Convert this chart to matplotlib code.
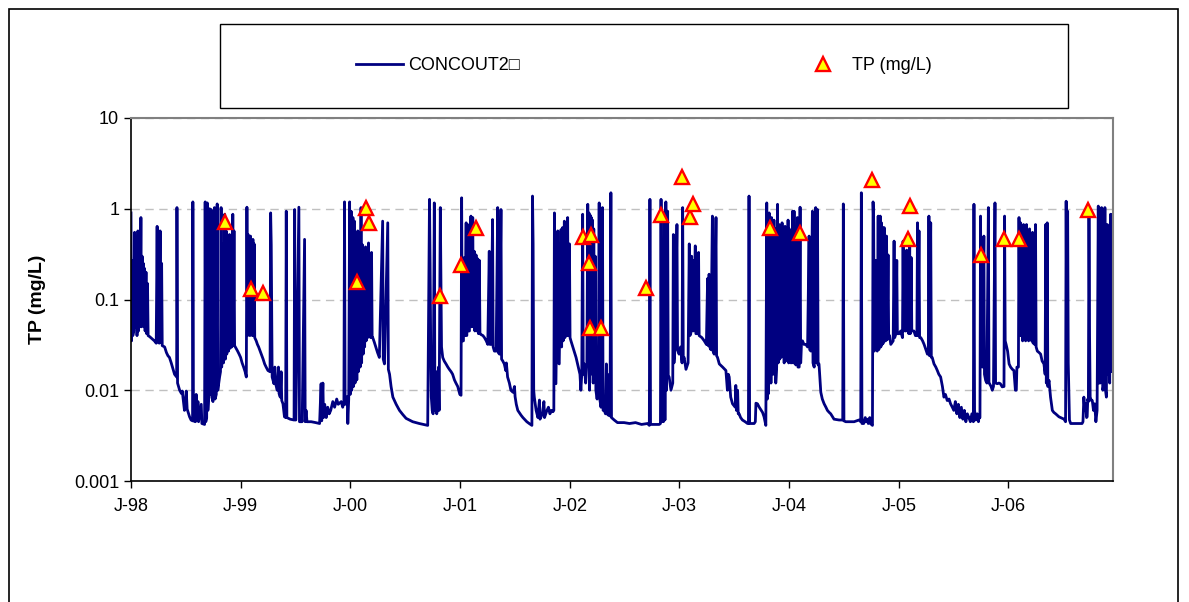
import matplotlib
matplotlib.use("Agg")
import matplotlib.pyplot as plt
from matplotlib.patches import Rectangle
import numpy as np

plt.rcParams["font.family"] = ["Liberation Sans", "DejaVu Sans"]

# Data: days since 1998-01-01 and TP (mg/L)
start = np.datetime64("1998-01-01")

concout2 = [
    # 1998
    (0, 0.90), (2, 0.035), (4, 0.27), (6, 0.04), (9, 0.045), (12, 0.55), (14, 0.05),
    (17, 0.25), (20, 0.04), (23, 0.57), (25, 0.045), (28, 0.44), (30, 0.05), (33, 0.80),
    (35, 0.05), (37, 0.30), (39, 0.055), (41, 0.25), (43, 0.05), (45, 0.22), (47, 0.045),
    (50, 0.20), (52, 0.042), (55, 0.15), (57, 0.040), (62, 0.039), (70, 0.037), (78, 0.035),
    (84, 0.033), (87, 0.64), (89, 0.034), (92, 0.29), (94, 0.033), (97, 0.57), (99, 0.034),
    (102, 0.25), (104, 0.031), (112, 0.030), (118, 0.026), (123, 0.024), (128, 0.023),
    (134, 0.020), (140, 0.017), (145, 0.015), (152, 0.014), (153, 1.03), (155, 0.012),
    (162, 0.010), (168, 0.0092), (171, 0.0098), (173, 0.0084), (178, 0.0060), (181, 0.0075),
    (184, 0.0098), (187, 0.0062), (195, 0.0051), (200, 0.0047), (205, 0.0046), (206, 1.19),
    (208, 0.0046), (214, 0.0045), (217, 0.0090), (219, 0.0046), (223, 0.0075), (225, 0.0045),
    (234, 0.0070), (236, 0.0043), (245, 0.0042), (247, 1.19), (249, 0.0045), (252, 0.0050),
    (254, 1.16), (256, 0.006), (259, 0.0092), (262, 1.0), (264, 0.009), (267, 0.98),
    (269, 0.0084), (273, 0.0075), (278, 1.03), (280, 0.0080), (284, 0.009), (287, 1.13),
    (289, 0.010), (295, 0.014), (298, 0.016), (300, 1.03), (302, 0.018), (306, 0.41),
    (308, 0.02), (312, 0.87), (314, 0.022), (317, 0.57), (319, 0.025), (323, 0.34),
    (325, 0.027), (328, 0.52), (330, 0.029), (334, 0.30), (336, 0.03), (339, 0.87),
    (341, 0.031), (343, 0.57), (345, 0.031), (350, 0.029), (355, 0.027), (360, 0.025),
    (365, 0.023),
    # 1999
    (370, 0.020), (375, 0.018), (380, 0.016), (384, 0.014), (386, 1.04), (388, 0.04),
    (390, 0.52), (392, 0.045), (394, 0.41), (396, 0.04), (398, 0.50), (400, 0.042),
    (402, 0.44), (404, 0.04), (406, 0.46), (408, 0.04), (410, 0.41), (412, 0.038),
    (417, 0.035), (421, 0.032), (425, 0.030), (430, 0.027), (434, 0.025), (440, 0.022),
    (445, 0.0195), (450, 0.018), (456, 0.0165), (463, 0.016), (465, 0.90), (467, 0.40),
    (470, 0.014), (476, 0.0118), (479, 0.018), (481, 0.012), (487, 0.010), (491, 0.018),
    (493, 0.0092), (497, 0.0084), (500, 0.016), (502, 0.0077), (506, 0.0071), (511, 0.0051),
    (515, 0.0050), (517, 0.94), (519, 0.0050), (530, 0.0048), (543, 0.0047), (545, 0.98),
    (547, 0.0047), (549, 0.0047), (559, 1.04), (561, 0.0045), (570, 0.0045), (578, 0.46),
    (580, 0.0045), (583, 0.0060), (586, 0.0045), (600, 0.0045), (615, 0.0044), (628, 0.0043),
    (633, 0.0118), (635, 0.0046), (639, 0.012), (641, 0.0050), (645, 0.0070), (650, 0.0050),
    (655, 0.0065), (660, 0.0055), (665, 0.0060), (672, 0.0075), (678, 0.0065), (685, 0.0080),
    (690, 0.0070), (700, 0.0075), (705, 0.0065), (709, 0.0075), (711, 1.19), (713, 0.0070),
    (718, 0.0075), (720, 0.0085), (722, 0.0043), (725, 0.008),
    # 2000
    (728, 1.19), (730, 0.009), (733, 0.94), (735, 0.010), (739, 0.80), (741, 0.011),
    (744, 0.73), (746, 0.012), (750, 0.16), (752, 0.013), (755, 0.57), (757, 0.016),
    (761, 0.44), (763, 0.018), (766, 1.03), (768, 0.02), (771, 0.40), (773, 0.025),
    (776, 0.35), (778, 0.03), (781, 0.38), (783, 0.035), (786, 0.33), (788, 0.038),
    (791, 0.42), (793, 0.04), (796, 0.30), (798, 0.038), (801, 0.33), (803, 0.038),
    (805, 0.038), (810, 0.034), (815, 0.03), (821, 0.026), (827, 0.023), (838, 0.73),
    (840, 0.022), (844, 0.0195), (855, 0.70), (857, 0.017), (861, 0.015), (866, 0.011),
    (872, 0.0084), (883, 0.007), (894, 0.006), (905, 0.0054), (916, 0.0049), (927, 0.0047),
    (938, 0.0045), (960, 0.0043), (988, 0.0041), (994, 1.27), (996, 0.25), (998, 0.031),
    (1000, 0.0084), (1003, 0.006), (1006, 0.0055), (1010, 1.16), (1012, 0.006), (1016, 0.016),
    (1018, 0.0055), (1021, 0.0065), (1024, 0.018), (1026, 0.006), (1030, 1.03), (1032, 0.19),
    (1034, 0.03), (1038, 0.023), (1043, 0.021), (1049, 0.0195), (1055, 0.018), (1060, 0.017),
    (1066, 0.016), (1071, 0.015), (1077, 0.013), (1082, 0.012), (1088, 0.011), (1095, 0.009),
    # 2001
    (1099, 0.0088), (1101, 1.32), (1103, 0.035), (1107, 0.035), (1110, 0.29), (1112, 0.04),
    (1116, 0.70), (1118, 0.04), (1121, 0.67), (1123, 0.045), (1127, 0.045), (1130, 0.60),
    (1132, 0.83), (1134, 0.05), (1138, 0.80), (1140, 0.05), (1143, 0.34), (1145, 0.045),
    (1149, 0.31), (1151, 0.045), (1155, 0.28), (1157, 0.042), (1160, 0.27), (1162, 0.042),
    (1166, 0.041), (1172, 0.040), (1177, 0.038), (1183, 0.035), (1188, 0.032), (1193, 0.34),
    (1195, 0.032), (1199, 0.032), (1204, 0.76), (1206, 0.030), (1210, 0.027), (1216, 0.027),
    (1221, 1.03), (1223, 0.026), (1227, 0.025), (1232, 0.98), (1234, 0.022), (1238, 0.021),
    (1243, 0.0195), (1248, 0.0165), (1250, 0.020), (1254, 0.014), (1260, 0.012), (1265, 0.010),
    (1272, 0.0095), (1277, 0.011), (1279, 0.0085), (1283, 0.007), (1288, 0.0060), (1294, 0.0056),
    (1299, 0.0053), (1305, 0.005), (1310, 0.0048), (1318, 0.0045), (1326, 0.0043), (1335, 0.0041),
    (1337, 1.38), (1339, 0.41), (1341, 0.01), (1343, 0.0084), (1349, 0.0060), (1355, 0.0050),
    (1360, 0.0078), (1362, 0.0048), (1370, 0.0055), (1375, 0.0075), (1377, 0.0050),
    (1385, 0.0060), (1390, 0.0065), (1395, 0.0055), (1400, 0.0060), (1405, 0.0058),
    (1408, 0.0060), (1410, 0.90), (1412, 0.012), (1415, 0.0118), (1421, 0.57), (1423, 0.02),
    (1426, 0.0195), (1432, 0.59), (1434, 0.03), (1437, 0.62), (1439, 0.035), (1443, 0.73),
    (1445, 0.038), (1448, 0.64), (1450, 0.04), (1454, 0.80), (1456, 0.04), (1460, 0.41),
    (1462, 0.038),
    # 2002
    (1465, 0.035), (1470, 0.031), (1476, 0.027), (1482, 0.023), (1487, 0.0195), (1495, 0.015),
    (1498, 0.010), (1501, 0.015), (1504, 0.87), (1506, 0.015), (1509, 0.0195), (1514, 0.012),
    (1518, 0.020), (1521, 1.12), (1523, 0.02), (1525, 0.90), (1527, 0.01), (1529, 0.85),
    (1531, 0.015), (1533, 0.80), (1535, 0.02), (1537, 0.75), (1539, 0.012), (1541, 0.60),
    (1543, 0.015), (1546, 0.30), (1548, 0.010), (1552, 0.008), (1556, 0.012), (1559, 1.16),
    (1561, 0.008), (1565, 0.0065), (1568, 0.010), (1570, 1.03), (1572, 0.006), (1576, 0.0060),
    (1580, 0.0055), (1583, 0.0195), (1585, 0.0055), (1590, 0.0053), (1593, 0.015),
    (1595, 0.0052), (1598, 1.50), (1600, 0.0050), (1609, 0.0047), (1620, 0.0044),
    (1642, 0.0044), (1660, 0.0043), (1680, 0.0044), (1700, 0.0042), (1720, 0.0043),
    (1726, 0.0041), (1728, 1.27), (1730, 0.0042), (1745, 0.0042), (1759, 0.0042),
    (1763, 0.0043), (1765, 1.27), (1767, 0.0045), (1770, 0.0070), (1773, 0.0045), (1776, 0.80),
    (1778, 0.0047), (1781, 1.19), (1783, 0.010), (1787, 0.94), (1789, 0.014), (1792, 0.014),
    (1798, 0.010), (1804, 0.012), (1806, 0.52), (1808, 0.02), (1812, 0.030), (1818, 0.67),
    (1820, 0.028), (1825, 0.025), (1830, 0.030),
    # 2003
    (1835, 0.020), (1837, 1.03), (1839, 0.022), (1842, 0.023), (1848, 0.017), (1855, 0.020),
    (1859, 0.41), (1861, 0.04), (1864, 0.042), (1867, 0.30), (1869, 0.045), (1872, 0.27),
    (1874, 0.045), (1879, 0.39), (1881, 0.042), (1883, 0.042), (1886, 0.27), (1888, 0.042),
    (1890, 0.33), (1892, 0.040), (1901, 0.038), (1909, 0.035), (1916, 0.032), (1920, 0.17),
    (1922, 0.031), (1925, 0.19), (1927, 0.030), (1931, 0.028), (1936, 0.83), (1938, 0.027),
    (1942, 0.025), (1948, 0.80), (1950, 0.024), (1953, 0.023), (1959, 0.0195), (1970, 0.018),
    (1981, 0.0165), (1986, 0.010), (1989, 0.015), (1992, 0.014), (1997, 0.0084), (2003, 0.0071),
    (2012, 0.0065), (2014, 0.0113), (2016, 0.006), (2020, 0.010), (2022, 0.0055), (2025, 0.0055),
    (2030, 0.005), (2036, 0.0047), (2045, 0.0045), (2053, 0.0043), (2056, 0.0043), (2058, 1.38),
    (2060, 0.0043), (2075, 0.0043), (2079, 0.0045), (2081, 0.0072), (2086, 0.0071),
    (2092, 0.0065), (2103, 0.0057), (2108, 0.0051), (2114, 0.0041), (2117, 1.16), (2119, 0.008),
    (2121, 0.67), (2123, 0.0092), (2125, 0.90), (2127, 0.015), (2129, 0.62), (2131, 0.012),
    (2133, 0.80), (2135, 0.018), (2137, 0.57), (2139, 0.015), (2141, 0.75), (2143, 0.02),
    (2145, 0.60), (2147, 0.012), (2150, 0.018), (2153, 1.12), (2155, 0.02), (2158, 0.67),
    (2160, 0.022), (2163, 0.57), (2165, 0.023), (2168, 0.70), (2170, 0.025), (2173, 0.57),
    (2175, 0.02), (2178, 0.64), (2180, 0.023), (2183, 0.52), (2185, 0.021), (2188, 0.75),
    (2190, 0.02), (2192, 0.60), (2194, 0.022),
    # 2004
    (2198, 0.020), (2203, 0.94), (2205, 0.02), (2208, 0.94), (2210, 0.02), (2214, 0.019),
    (2219, 0.80), (2221, 0.018), (2225, 0.018), (2228, 1.04), (2230, 0.02), (2233, 0.035),
    (2236, 0.035), (2241, 0.032), (2247, 0.032), (2253, 0.030), (2258, 0.50), (2260, 0.028),
    (2264, 0.027), (2269, 0.94), (2271, 0.02), (2275, 0.018), (2280, 1.03), (2282, 0.02),
    (2286, 0.98), (2288, 0.019), (2291, 0.0195), (2297, 0.0095), (2302, 0.008), (2308, 0.0071),
    (2314, 0.0065), (2319, 0.0060), (2325, 0.0057), (2330, 0.0055), (2341, 0.0048),
    (2358, 0.0047), (2370, 0.0047), (2372, 1.13), (2374, 0.0046), (2380, 0.0045),
    (2408, 0.0045), (2424, 0.0047), (2430, 0.0045), (2432, 1.50), (2434, 0.0043),
    (2440, 0.0043), (2445, 0.0050), (2447, 0.0045), (2452, 0.0048), (2455, 0.0043),
    (2460, 0.0050), (2462, 0.0043), (2469, 0.0041), (2471, 1.19), (2473, 0.70), (2475, 0.027),
    (2477, 0.03), (2480, 0.27), (2482, 0.03), (2485, 0.027), (2488, 0.83), (2490, 0.028),
    (2492, 0.030), (2495, 0.83), (2497, 0.03), (2499, 0.70), (2501, 0.032), (2503, 0.62),
    (2505, 0.033), (2508, 0.62), (2510, 0.035), (2513, 0.035), (2516, 0.50), (2518, 0.036),
    (2521, 0.31), (2523, 0.04), (2526, 0.04), (2530, 0.032), (2538, 0.035), (2541, 0.44),
    (2543, 0.038), (2547, 0.042), (2550, 0.27), (2552, 0.042), (2558, 0.042),
    # 2005
    (2563, 0.045), (2569, 0.038), (2571, 0.44), (2573, 0.045), (2576, 0.34), (2578, 0.045),
    (2580, 0.045), (2583, 0.35), (2585, 0.045), (2588, 0.33), (2590, 0.042), (2593, 0.38),
    (2595, 0.042), (2598, 0.29), (2600, 0.045), (2604, 0.045), (2607, 0.045), (2612, 0.04),
    (2617, 0.04), (2619, 0.70), (2621, 0.04), (2624, 0.57), (2626, 0.038), (2630, 0.038),
    (2636, 0.035), (2641, 0.032), (2647, 0.028), (2652, 0.025), (2655, 0.025), (2657, 0.83),
    (2659, 0.024), (2663, 0.70), (2665, 0.023), (2668, 0.023), (2674, 0.0195), (2680, 0.018),
    (2685, 0.0165), (2690, 0.015), (2696, 0.014), (2702, 0.011), (2707, 0.0084), (2712, 0.009),
    (2718, 0.0077), (2724, 0.008), (2729, 0.0071), (2735, 0.0065), (2740, 0.0060),
    (2745, 0.0075), (2750, 0.0055), (2755, 0.0070), (2760, 0.0050), (2765, 0.0065),
    (2770, 0.0048), (2775, 0.0060), (2780, 0.0045), (2785, 0.0055), (2790, 0.0050),
    (2795, 0.0045), (2800, 0.0055), (2805, 0.0045), (2807, 1.12), (2809, 0.006), (2813, 0.0047),
    (2818, 0.0055), (2822, 0.0045), (2824, 0.0051), (2827, 0.0050), (2829, 0.83), (2831, 0.02),
    (2835, 0.018), (2840, 0.50), (2842, 0.015), (2846, 0.0128), (2850, 0.012), (2855, 1.03),
    (2857, 0.012), (2859, 0.0118), (2864, 0.0110), (2868, 0.010), (2872, 0.011), (2877, 1.16),
    (2879, 0.012), (2885, 0.0118), (2890, 0.012), (2895, 0.0118), (2901, 0.0109),
    (2907, 0.0110), (2909, 0.83), (2911, 0.035), (2914, 0.032), (2919, 0.027),
    # 2006
    (2924, 0.0195), (2929, 0.018), (2935, 0.017), (2940, 0.0165), (2945, 0.010), (2948, 0.010),
    (2950, 0.018), (2955, 0.018), (2957, 0.80), (2959, 0.04), (2962, 0.70), (2964, 0.04),
    (2967, 0.64), (2969, 0.035), (2972, 0.67), (2974, 0.04), (2977, 0.57), (2979, 0.035),
    (2982, 0.67), (2984, 0.04), (2987, 0.52), (2989, 0.035), (2992, 0.60), (2994, 0.038),
    (2997, 0.50), (2999, 0.035), (3002, 0.55), (3004, 0.033), (3007, 0.45), (3009, 0.032),
    (3012, 0.67), (3014, 0.03), (3018, 0.027), (3024, 0.026), (3029, 0.025), (3034, 0.021),
    (3040, 0.0195), (3044, 0.015), (3046, 0.67), (3048, 0.012), (3051, 0.70), (3053, 0.011),
    (3057, 0.0128), (3062, 0.0084), (3068, 0.0060), (3073, 0.0057), (3079, 0.0055),
    (3090, 0.0051), (3107, 0.0048), (3112, 0.0045), (3114, 1.21), (3116, 0.03), (3119, 0.94),
    (3121, 0.02), (3125, 0.0047), (3129, 0.0043), (3145, 0.0043), (3167, 0.0043),
    (3170, 0.0045), (3173, 0.0084), (3176, 0.0060), (3179, 0.0071), (3182, 0.0050),
    (3184, 0.0051), (3186, 0.0080), (3188, 0.0075), (3190, 1.03), (3192, 0.04), (3194, 0.0084),
    (3198, 0.0077), (3201, 0.0077), (3205, 0.0060), (3209, 0.0071), (3213, 0.0045),
    (3217, 0.0060), (3221, 1.07), (3223, 0.012), (3225, 0.0195), (3227, 0.012), (3230, 0.015),
    (3232, 1.03), (3234, 0.02), (3236, 0.01), (3240, 0.012), (3243, 1.03), (3245, 0.01),
    (3248, 0.0084), (3251, 0.67), (3253, 0.015), (3256, 0.0195), (3259, 0.012), (3262, 0.87),
    (3264, 0.02), (3267, 0.016), (3269, 0.87), (3270, 0.02),
]

# measured TP samples
tp_days = [313, 398, 439, 752, 783, 794, 1030, 1099, 1150, 1504, 1524, 1530, 1532,
           1564, 1716, 1764, 1836, 1860, 1872, 2129, 2227, 2469, 2588, 2595, 2831,
           2908, 2958, 3188]
tp_obs = [0.71, 0.13, 0.117, 0.156, 1.02, 0.70, 0.108, 0.24, 0.62, 0.49, 0.25, 0.049,
          0.52, 0.049, 0.135, 0.85, 2.23, 0.81, 1.12, 0.62, 0.54, 2.1, 0.47, 1.07,
          0.31, 0.47, 0.47, 0.98]

year_ticks = ["1998", "1999", "2000", "2001", "2002", "2003", "2004", "2005", "2006"]
year_labels = ["J-98", "J-99", "J-00", "J-01", "J-02", "J-03", "J-04", "J-05", "J-06"]
y_ticks = [0.001, 0.01, 0.1, 1, 10]
y_labels = ["0.001", "0.01", "0.1", "1", "10"]

line_days = np.array([d for d, v in concout2])
line_tp = np.array([v for d, v in concout2])
line_dates = start + line_days.astype("timedelta64[D]")
tp_dates = start + np.array(tp_days).astype("timedelta64[D]")

W, H = 1189, 602
fig = plt.figure(figsize=(W / 100, H / 100), dpi=100)
ax = fig.add_axes([131 / W, 1 - 481 / H, (1113 - 131) / W, (481 - 118) / H])

line, = ax.plot(line_dates, line_tp, color="#000080", lw=2.0, label="CONCOUT2\u25a1")
pts, = ax.plot(tp_dates, tp_obs, linestyle="none", marker="^", markersize=10,
               markerfacecolor="#ffff00", markeredgecolor="#ff0000", markeredgewidth=1.7,
               label="TP (mg/L)")

ax.set_yscale("log")
ax.set_ylim(0.001, 10)
ax.set_yticks(y_ticks)
ax.set_yticklabels(y_labels)
ax.yaxis.set_minor_locator(matplotlib.ticker.NullLocator())
ax.set_xlim(start, start + np.timedelta64(3270, "D"))
ax.set_xticks([np.datetime64(y + "-01-01") for y in year_ticks])
ax.set_xticklabels(year_labels)

ax.tick_params(axis="both", direction="out", length=5, width=1, labelsize=13, colors="black")
ax.tick_params(axis="x", pad=7)
ax.yaxis.grid(True, linestyle=(0, (6, 4)), color="#c0c0c0", lw=1)
ax.set_axisbelow(True)
for side in ["top", "right"]:
    ax.spines[side].set_color("#808080")
    ax.spines[side].set_linewidth(1.5)
for side in ["left", "bottom"]:
    ax.spines[side].set_color("black")
    ax.spines[side].set_linewidth(1.2)

ax.set_ylabel("TP (mg/L)", fontsize=14, fontweight="bold")
ax.yaxis.set_label_coords(-0.087, 0.5)

# legend box and entries
fig.patches.append(Rectangle((220 / W, 1 - 108 / H), 848 / W, 84 / H, transform=fig.transFigure,
                             fill=False, edgecolor="black", lw=1))
fig.legend([line, pts], ["CONCOUT2\u25a1", "TP (mg/L)"], loc="center",
           bbox_to_anchor=(644 / W, 1 - 66 / H), ncol=2, frameon=False, fontsize=13,
           handlelength=2.6, handletextpad=0.3, columnspacing=15.5, numpoints=1)

# outer chart frame
fig.patches.append(Rectangle((9 / W, -0.05), (1178 - 9) / W, 1.05 - 9 / H,
                             transform=fig.transFigure, fill=False, edgecolor="black", lw=1.2))

fig.savefig("out.png", dpi=100)
